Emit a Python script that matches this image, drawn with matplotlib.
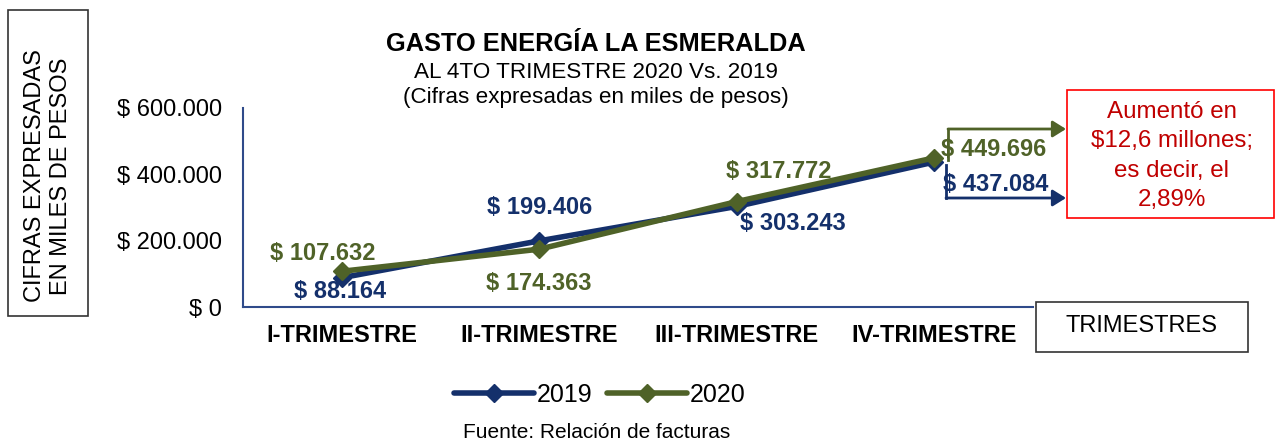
import matplotlib
matplotlib.use("Agg")
import matplotlib.pyplot as plt
from matplotlib.patches import Rectangle, FancyArrowPatch

plt.rcParams['font.family'] = ['Liberation Sans', 'DejaVu Sans']

categories = ["I-TRIMESTRE", "II-TRIMESTRE", "III-TRIMESTRE", "IV-TRIMESTRE"]
v2019 = [88164, 199406, 303243, 437084]
v2020 = [107632, 174363, 317772, 449696]
yticks = [0, 200000, 400000, 600000]
ytick_labels = ["$ 0", "$ 200.000", "$ 400.000", "$ 600.000"]
lab2019 = ["$ 88.164", "$ 199.406", "$ 303.243", "$ 437.084"]
lab2020 = ["$ 107.632", "$ 174.363", "$ 317.772", "$ 449.696"]

c2019 = "#14306B"
c2020 = "#4F6228"

W, H = 1276, 441
fig = plt.figure(figsize=(W / 100, H / 100), dpi=100)
ax = fig.add_axes([243 / W, 1 - 307 / H, (1033 - 243) / W, (307 - 108) / H])

x = list(range(len(categories)))
ax.plot(x, v2019, color=c2019, lw=4, marker="D", ms=9, label="2019", solid_capstyle="round")
ax.plot(x, v2020, color=c2020, lw=4, marker="D", ms=9, label="2020", solid_capstyle="round")

ax.set_xlim(-0.5, 3.5)
ax.set_ylim(0, 600000)
ax.set_yticks(yticks)
ax.set_yticklabels(ytick_labels, fontsize=17)
ax.set_xticks(x)
ax.set_xticklabels(categories, fontsize=17, fontweight="bold")
ax.tick_params(axis="both", length=0)
ax.tick_params(axis="y", pad=15)
ax.tick_params(axis="x", pad=12)
for s in ["top", "right"]:
    ax.spines[s].set_visible(False)
for s in ["left", "bottom"]:
    ax.spines[s].set_color("#2F4B8A")
    ax.spines[s].set_linewidth(1.5)

off2019 = [(-2, -14), (0, 33), (56, -17), (61, -22)]
off2020 = [(-19, 18), (0, -34), (42, 30), (59, 8)]
for i in x:
    ax.annotate(lab2019[i], (i, v2019[i]), xytext=off2019[i], textcoords="offset pixels",
                ha="center", va="center", fontsize=17, fontweight="bold", color=c2019)
    ax.annotate(lab2020[i], (i, v2020[i]), xytext=off2020[i], textcoords="offset pixels",
                ha="center", va="center", fontsize=17, fontweight="bold", color=c2020)

def fx(px):
    return px / W

def fy(py):
    return 1 - py / H

# titles
fig.text(fx(596), fy(44), "GASTO ENERGÍA LA ESMERALDA", ha="center", va="center",
         fontsize=18.3, fontweight="bold")
fig.text(fx(596), fy(72), "AL 4TO TRIMESTRE 2020 Vs. 2019", ha="center", va="center", fontsize=16.2)
fig.text(fx(596), fy(98), "(Cifras expresadas en miles de pesos)", ha="center", va="center", fontsize=16.2)

# y label box
fig.patches.append(Rectangle((fx(8), fy(316)), fx(88) - fx(8), fy(10) - fy(316),
                             transform=fig.transFigure, fill=False, ec="#333333", lw=1.2))
fig.text(fx(48), fy(176), "CIFRAS EXPRESADAS\nEN MILES DE PESOS", rotation=90, ha="center",
         va="center", fontsize=17, linespacing=1.2)

# x label box
fig.patches.append(Rectangle((fx(1036), fy(352)), fx(1248) - fx(1036), fy(302) - fy(352),
                             transform=fig.transFigure, fill=False, ec="#333333", lw=1.2))
fig.text(fx(1142), fy(326), "TRIMESTRES", ha="center", va="center", fontsize=17)

# red box
fig.patches.append(Rectangle((fx(1067), fy(218)), fx(1274) - fx(1067), fy(90) - fy(218),
                             transform=fig.transFigure, fill=False, ec="#FF0000", lw=1.2))
fig.text(fx(1172), fy(156), "Aumentó en\n$12,6 millones;\nes decir, el\n2,89%", ha="center",
         va="center", fontsize=17.4, color="#C00000", linespacing=1.42)

# arrows
for pts, col in [([(948, 160), (948, 129), (1066, 129)], c2020),
                 ([(946, 165), (946, 198), (1066, 198)], c2019)]:
    xs = [fx(p[0]) for p in pts[:2]]
    ys = [fy(p[1]) for p in pts[:2]]
    fig.lines.append(plt.Line2D(xs, ys, transform=fig.transFigure, color=col, lw=2))
    arr = FancyArrowPatch((fx(pts[1][0]), fy(pts[1][1])), (fx(pts[2][0]), fy(pts[2][1])),
                          transform=fig.transFigure, arrowstyle="-|>,head_length=8,head_width=5",
                          color=col, lw=2, mutation_scale=1, shrinkA=0, shrinkB=0)
    fig.patches.append(arr)

leg = fig.legend(loc="center", bbox_to_anchor=(fx(600), fy(395)), ncol=2, frameon=False,
                 fontsize=18, handlelength=3.2, handletextpad=0.1, columnspacing=0.6)

fig.text(fx(597), fy(432), "Fuente: Relación de facturas", ha="center", va="center", fontsize=15)

fig.savefig("out.png", dpi=100)
